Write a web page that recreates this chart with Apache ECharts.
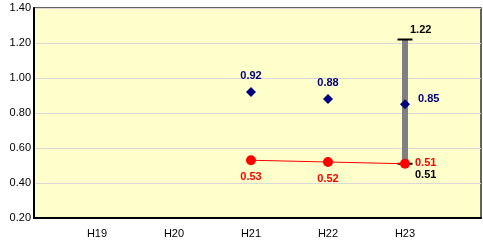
<!DOCTYPE html>
<html>
<head>
<meta charset="utf-8">
<script src="https://cdn.jsdelivr.net/npm/echarts@6/dist/echarts.min.js"></script>
<style>
  html, body { margin: 0; padding: 0; background: #fff; }
  #main { width: 483px; height: 247px; }
</style>
</head>
<body>
<div id="main"></div>
<script>
var categories = ['H19', 'H20', 'H21', 'H22', 'H23']
var blueValues = [null, null, 0.92, 0.88, 0.85]
var redValues = [null, null, 0.53, 0.52, 0.51]
// high-low range shown at H23
var rangeIndex = 4
var rangeLow = 0.51
var rangeHigh = 1.22
var yTicks = [0.2, 0.4, 0.6, 0.8, 1.0, 1.2, 1.4]

var font = 'Liberation Sans, Arial, sans-serif'

// last point gets its label on the right side
function toPoints(values, lastLabel) {
  var out = []
  values.forEach(function (v, i) {
    if (v === null) return
    var item = { value: [i, v] }
    if (i === values.length - 1) item.label = lastLabel
    out.push(item)
  })
  return out
}

var chart = echarts.init(document.getElementById('main'))
var option = {
  animation: false,
  grid: {
    left: 34,
    right: 2,
    top: 8,
    bottom: 29,
    show: true,
    backgroundColor: '#ffffcc',
    borderColor: '#303030',
    borderWidth: 1.5
  },
  xAxis: {
    type: 'value',
    min: -0.818,
    max: 4.987,
    splitLine: { show: false },
    axisTick: { show: false },
    axisLine: { show: true, onZero: false, lineStyle: { color: '#000', width: 2 } },
    axisLabel: {
      customValues: [0, 1, 2, 3, 4],
      formatter: function (v) { return categories[Math.round(v)] },
      color: '#000',
      fontFamily: font,
      fontSize: 11,
      margin: 10
    }
  },
  yAxis: {
    type: 'value',
    min: yTicks[0],
    max: yTicks[yTicks.length - 1],
    interval: 0.2,
    axisLine: { show: true, onZero: false, lineStyle: { color: '#000', width: 2 } },
    axisTick: { show: false },
    splitLine: { lineStyle: { color: '#d9d9d9', width: 1 } },
    axisLabel: {
      formatter: function (v) { return v.toFixed(2) },
      color: '#000',
      fontFamily: font,
      fontSize: 11,
      margin: 3
    }
  },
  series: [
    {
      type: 'custom',
      z: 1,
      data: [[rangeIndex, rangeLow, rangeHigh]],
      renderItem: function (params, api) {
        var lo = api.coord([api.value(0), api.value(1)])
        var hi = api.coord([api.value(0), api.value(2)])
        var textStyle = { fill: '#000', font: 'bold 11px ' + font }
        return {
          type: 'group',
          children: [
            { type: 'rect', shape: { x: hi[0] - 3, y: hi[1], width: 6, height: lo[1] - hi[1] }, style: { fill: '#808080' } },
            { type: 'rect', shape: { x: hi[0] - 7.5, y: hi[1] - 1, width: 15, height: 2 }, style: { fill: '#000' } },
            { type: 'rect', shape: { x: lo[0] - 7.5, y: lo[1] - 1, width: 15, height: 2 }, style: { fill: '#000' } },
            { type: 'text', x: hi[0] + 5, y: hi[1] - 10, style: Object.assign({ text: api.value(2).toFixed(2), textVerticalAlign: 'middle' }, textStyle) },
            { type: 'text', x: lo[0] + 10, y: lo[1] + 11, style: Object.assign({ text: api.value(1).toFixed(2), textVerticalAlign: 'middle' }, textStyle) }
          ]
        }
      }
    },
    {
      name: 'blue',
      type: 'scatter',
      z: 3,
      symbol: 'diamond',
      symbolSize: 10,
      itemStyle: { color: '#000080', opacity: 1 },
      data: toPoints(blueValues, { position: 'right', distance: 8, offset: [0, -5] }),
      label: {
        show: true,
        color: '#000080',
        fontFamily: font,
        fontWeight: 'bold',
        fontSize: 11,
        position: 'top',
        distance: 6,
        formatter: function (p) { return p.value[1].toFixed(2) }
      }
    },
    {
      name: 'red',
      type: 'line',
      z: 4,
      symbol: 'circle',
      symbolSize: 10,
      lineStyle: { color: '#ff0000', width: 1 },
      itemStyle: { color: '#ff0000', opacity: 1 },
      data: toPoints(redValues, { position: 'right', distance: 5, offset: [0, -1] }),
      label: {
        show: true,
        color: '#ff0000',
        fontFamily: font,
        fontWeight: 'bold',
        fontSize: 11,
        position: 'bottom',
        distance: 6,
        formatter: function (p) { return p.value[1].toFixed(2) }
      }
    }
  ]
}
option && chart.setOption(option)
</script>
</body>
</html>
